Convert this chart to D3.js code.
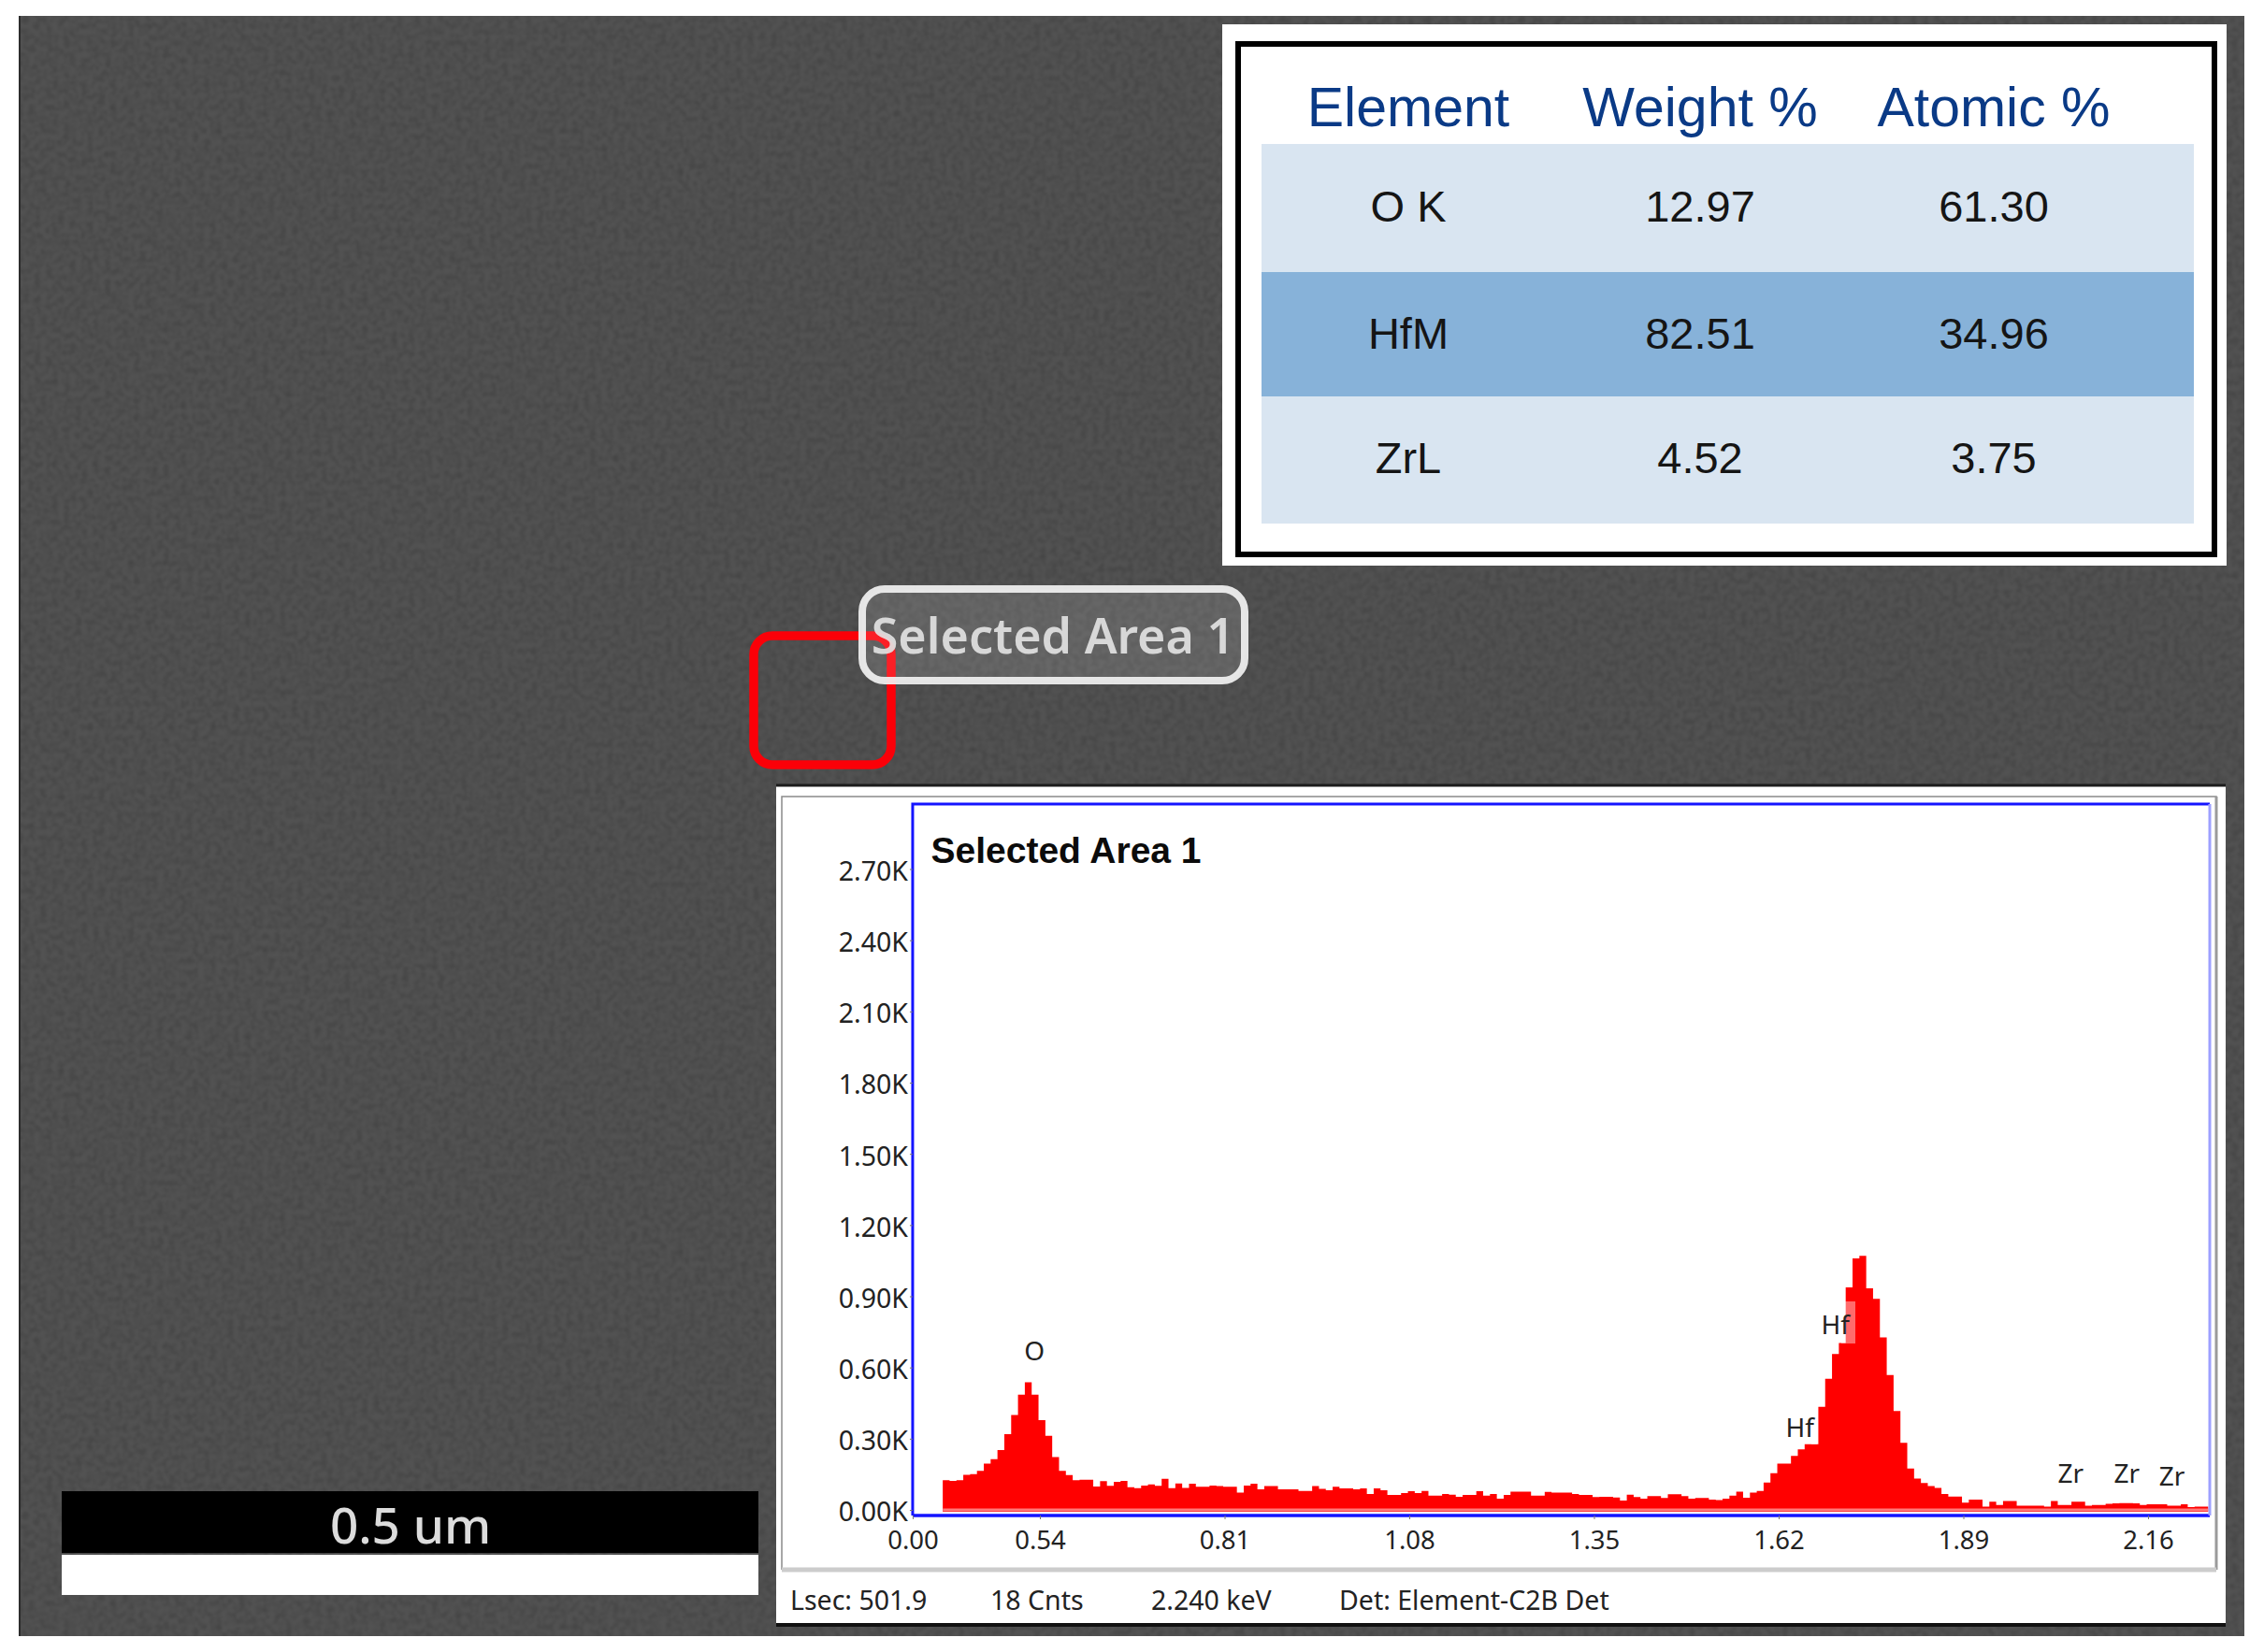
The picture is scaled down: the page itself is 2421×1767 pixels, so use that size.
<!DOCTYPE html>
<html><head><meta charset="utf-8">
<script src="https://cdn.jsdelivr.net/npm/d3@7/dist/d3.min.js"></script>
<style>html,body{margin:0;padding:0;background:#fff}svg{display:block}</style>
</head><body>
<script>
// ---- data ----
const counts = [125,122,125,148,151,164,195,214,252,319,400,485,538,485,378,312,223,164,147,125,127,127,98,121,101,118,122,96,92,102,107,101,131,92,111,
93,110,97,97,102,100,97,97,73,102,110,87,100,100,87,87,87,80,80,100,89,83,97,91,91,87,91,67,91,83,63,63,71,79,71,80,60,60,67,64,55,63,63,79,60,67,47,63,77,77,77,60,60,76,73,73,73,67,63,63,54,55,55,52,39,64,54,47,58,58,50,66,66,58,47,50,50,43,41,47,60,77,51,73,
80,115,155,195,195,227,255,277,277,434,552,657,703,937,1060,1070,933,889,727,568,417,283,174,132,113,100,93,67,56,56,31,43,43,14,34,21,37,37,18,18,18,18,14,37,21,21,34,34,18,21,21,26,28,29,29,28,21,24,24,24,18,18,24,12,14,14];
const binStartKeV = 0.398, binWidthKeV = 0.01;
const xTickValues = [0.354,0.54,0.81,1.08,1.35,1.62,1.89,2.16];
const xTickLabels = ["0.00","0.54","0.81","1.08","1.35","1.62","1.89","2.16"];
const yTickValues = [0,300,600,900,1200,1500,1800,2100,2400,2700];
const peakLabels = [["O",0.532,1445],["Hf",1.703,1417],["Hf",1.651,1527],["Zr",2.047,1576],["Zr",2.129,1576],["Zr",2.195,1579]];
const tableHeaders = ["Element","Weight %","Atomic %"];
const tableElements = ["O K","HfM","ZrL"];
const tableWeight = ["12.97","82.51","4.52"];
const tableAtomic = ["61.30","34.96","3.75"];
const statusItems = [["Lsec: 501.9",845],["18 Cnts",1059],["2.240 keV",1231],["Det: Element-C2B Det",1432]];

const svg = d3.select("body").append("svg").attr("width",2421).attr("height",1767).attr("viewBox","0 0 2421 1767");
const defs = svg.append("defs");
const f = defs.append("filter").attr("id","grain").attr("x",0).attr("y",0).attr("width","100%").attr("height","100%");
f.append("feTurbulence").attr("type","fractalNoise").attr("baseFrequency",0.16).attr("numOctaves",2).attr("seed",4).attr("result","n");
f.append("feColorMatrix").attr("in","n").attr("type","matrix").attr("values","0 0 0 0 0  0 0 0 0 0  0 0 0 0 0  1.4 0 0 0 -0.5");
f.append("feGaussianBlur").attr("stdDeviation",1);
const SANS="'Noto Sans',sans-serif", ARIAL="'Liberation Sans',Arial,sans-serif";

// micrograph background
svg.append("rect").attr("x",20).attr("y",17).attr("width",2380).attr("height",1733).attr("fill","#525252");
svg.append("rect").attr("x",20).attr("y",17).attr("width",2380).attr("height",1733).attr("fill","#000").attr("opacity",0.22).attr("filter","url(#grain)");
svg.append("rect").attr("x",20).attr("y",17).attr("width",2).attr("height",1733).attr("fill","#2c2c2c");

// selection box and its tag
svg.append("rect").attr("x",806).attr("y",680).attr("width",147).attr("height",138).attr("rx",20).attr("fill","none").attr("stroke","#fb0008").attr("stroke-width",9.5);
svg.append("rect").attr("x",922).attr("y",630).attr("width",409).attr("height",98).attr("rx",24).attr("fill","#fff").attr("fill-opacity",0.12).attr("stroke","#f2f2f2").attr("stroke-opacity",0.92).attr("stroke-width",8);
svg.append("text").attr("x",1126).attr("y",699).attr("text-anchor","middle").attr("font-family",SANS).attr("font-size",52).attr("font-weight",600).attr("fill","#e2e2e2").attr("fill-opacity",0.92).text("Selected Area 1");

// scale bar
svg.append("rect").attr("x",66).attr("y",1595).attr("width",745).attr("height",66).attr("fill","#000");
svg.append("rect").attr("x",66).attr("y",1663).attr("width",745).attr("height",43).attr("fill","#fff");
svg.append("text").attr("x",439).attr("y",1651).attr("text-anchor","middle").attr("font-family",SANS).attr("font-size",53).attr("font-weight",500).attr("fill","#dcdcdc").text("0.5 um");

// results table panel
svg.append("rect").attr("x",1307).attr("y",26).attr("width",1074).attr("height",579).attr("fill","#fff");
svg.append("rect").attr("x",1324).attr("y",47).attr("width",1044).attr("height",546).attr("fill","#fff").attr("stroke","#000").attr("stroke-width",6);
const rowTops = [154,291,424], rowBottoms=[291,424,560], rowFill=["#d9e5f1","#87b2d9","#d9e5f1"], colX=[1506,1818,2132], rowY=[220,355.5,489];
rowTops.forEach((t,i)=>svg.append("rect").attr("x",1349).attr("y",t).attr("width",997).attr("height",rowBottoms[i]-t).attr("fill",rowFill[i]));
tableHeaders.forEach((h,j)=>svg.append("text").attr("x",colX[j]).attr("y",135).attr("text-anchor","middle").attr("font-family",ARIAL).attr("font-size",59).attr("fill","#0a3a86").text(h));
[tableElements,tableWeight,tableAtomic].forEach((col,j)=>col.forEach((v,i)=>svg.append("text").attr("x",colX[j]).attr("y",rowY[i]+17).attr("text-anchor","middle").attr("font-family",ARIAL).attr("font-size",47).attr("fill","#151515").text(v)));

// spectrum panel
svg.append("rect").attr("x",830).attr("y",840).attr("width",1550).attr("height",897).attr("fill","#fff");
svg.append("path").attr("d","M830,840H2380").attr("stroke","#1c1c1c").attr("stroke-width",3);
svg.append("path").attr("d","M830,1738H2380").attr("stroke","#111").attr("stroke-width",4);
svg.append("path").attr("d","M836,1679V852H2370V1679").attr("fill","none").attr("stroke","#8a8a8a").attr("stroke-width",1.5);
svg.append("path").attr("d","M2370,852V1679").attr("stroke","#9a9a9a").attr("stroke-width",3);
svg.append("path").attr("d","M836,1679H2370").attr("stroke","#cccccc").attr("stroke-width",5);

const x = d3.scaleLinear().domain([0.54,2.16]).range([1112,2297]);
const y = d3.scaleLinear().domain([0,2700]).range([1615,929.5]);
const plotL = x(xTickValues[0]), plotR = 2363, plotT = 860, plotB = 1621;

// histogram
const bins = counts.map((c,i)=>({k:binStartKeV+i*binWidthKeV,c}));
bins.push({k:binStartKeV+counts.length*binWidthKeV,c:counts[counts.length-1]});
const area = d3.area().curve(d3.curveStepAfter).x(d=>x(d.k)).y0(y(0)+2).y1(d=>y(d.c));
svg.append("path").datum(bins).attr("d",area).attr("fill","#ff0000");
svg.append("path").datum(bins).attr("d",d3.line().curve(d3.curveStepAfter).x(d=>x(d.k)).y(()=>y(0))).attr("fill","none").attr("stroke","#ff7a7a").attr("stroke-width",3);

// translucent label patches
[[1969,1392,15,45],[1937,1517,6,28]].forEach(r=>svg.append("rect").attr("x",r[0]).attr("y",r[1]).attr("width",r[2]).attr("height",r[3]).attr("fill","#fff").attr("opacity",0.42));

// plot frame
svg.append("path").attr("d",`M${plotL},${plotB}V${plotT}H${plotR}`).attr("fill","none").attr("stroke","#1414ff").attr("stroke-width",3);
svg.append("path").attr("d",`M${plotL},${plotB}H${plotR}`).attr("stroke","#1414ff").attr("stroke-width",3.5);
svg.append("path").attr("d",`M${plotR},${plotT}V${plotB}`).attr("stroke","#9da0ff").attr("stroke-width",3);

// axes
const xAxis = d3.axisBottom(x).tickValues(xTickValues).tickFormat((d,i)=>xTickLabels[i]).tickSize(4).tickPadding(12);
const gx = svg.append("g").attr("transform",`translate(0,${plotB})`).call(xAxis);
gx.select(".domain").remove();
gx.selectAll("text").attr("font-family",SANS).attr("font-size",27.5).attr("fill","#222");
gx.selectAll("line").attr("stroke","#777");
const yAxis = d3.axisLeft(y).tickValues(yTickValues).tickFormat(d=>(d/1000).toFixed(2)+"K").tickSize(3).tickPadding(2);
const gy = svg.append("g").attr("transform",`translate(${plotL},0)`).call(yAxis);
gy.select(".domain").remove();
gy.selectAll("text").attr("font-family",SANS).attr("font-size",28.5).attr("fill","#222").attr("dy","0.42em");
gy.selectAll("line").attr("stroke","#777");

// title, peak labels, status bar
svg.append("text").attr("x",995.5).attr("y",923).attr("font-family",ARIAL).attr("font-weight",700).attr("font-size",39).attr("fill","#0b0b0b").text("Selected Area 1");
peakLabels.forEach(p=>svg.append("text").attr("x",x(p[1])).attr("y",p[2]+10).attr("text-anchor","middle").attr("font-family",SANS).attr("font-size",28).attr("fill","#222").text(p[0]));
statusItems.forEach(s=>svg.append("text").attr("x",s[1]).attr("y",1722).attr("font-family",SANS).attr("font-size",28.5).attr("fill","#222").text(s[0]));
</script>
</body></html>
